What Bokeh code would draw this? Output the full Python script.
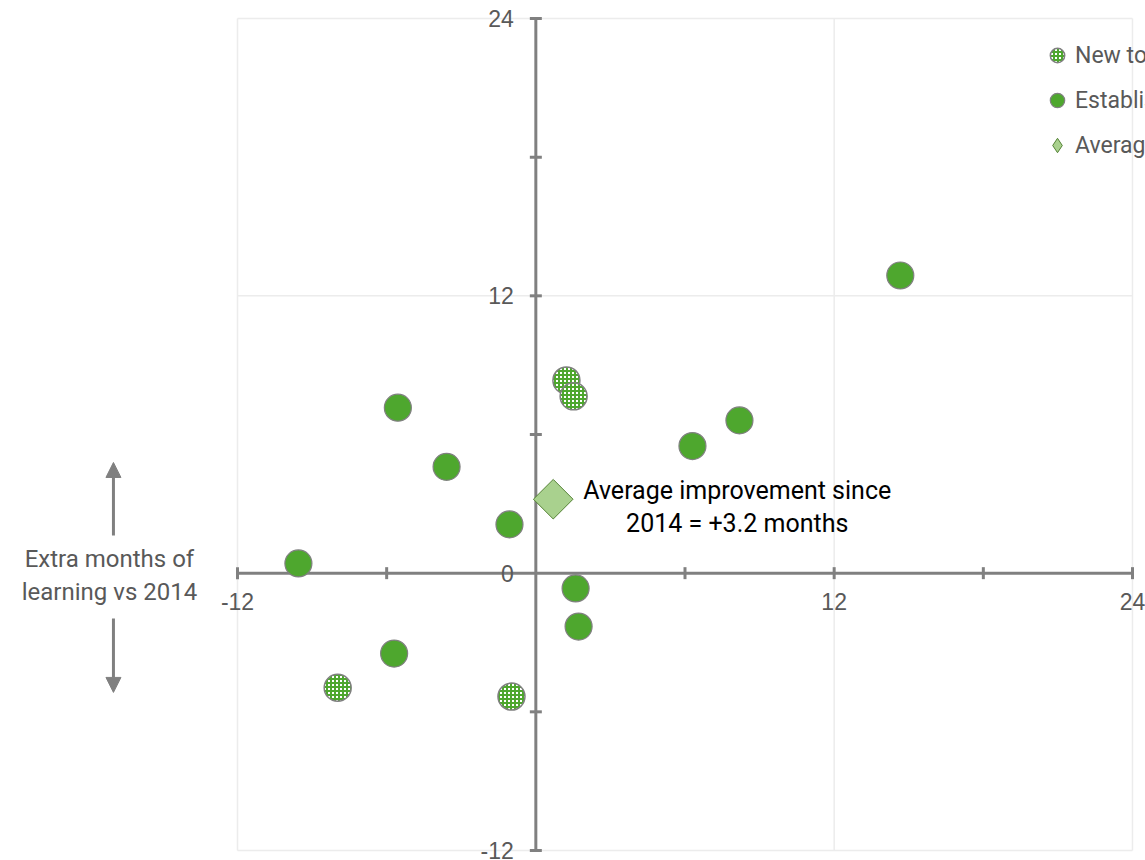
from math import pi
from bokeh.plotting import figure
from bokeh.models import Legend, LegendItem, Arrow, NormalHead
from bokeh.core.properties import value
from bokeh.embed import file_html
from bokeh.resources import INLINE

# ---------------- data ----------------
new_x = [1.23, 1.52, -7.97, -0.98]
new_y = [8.34, 7.65, -4.96, -5.34]

est_x = [14.66, -5.55, -3.59, -1.06, -9.55, 6.30, 8.19, 1.60, 1.72, -5.70]
est_y = [12.88, 7.16, 4.60, 2.11, 0.42, 5.50, 6.61, -0.66, -2.31, -3.48]

avg_x = [0.7]
avg_y = [3.2]

series_labels = ["New to programme", "Established in programme", "Average"]
annotation = "Average improvement since\n2014 = +3.2 months"
axis_title = "Extra months of\nlearning vs 2014"

x_tick_values = [-12, 12, 24]
x_tick_labels = ["-12", "12", "24"]
y_tick_values = [24, 12, 0, -12]
y_tick_labels = ["24", "12", "0", "-12"]
minor_ticks = [-12, -6, 6, 12, 18, 24]
grid_values = [-12, 12, 24]

# ---------------- styling ----------------
GREEN = "#4ea72e"
GREY = "#808080"
TEXT = "#595959"
GRID = "#ececec"
FONT = "Roboto"
TICK_FONT = "Liberation Sans"

W, H = 1145, 860
LO, HI = -12, 24

p = figure(width=W, height=H, x_range=(-21.533, 24.523), y_range=(-12.433, 24.779),
           output_backend="svg", toolbar_location=None,
           x_axis_type=None, y_axis_type=None, min_border=0)
p.grid.visible = False
p.outline_line_color = None
p.background_fill_color = "white"

# gridlines
p.segment(x0=grid_values, y0=[LO] * 3, x1=grid_values, y1=[HI] * 3,
          line_color=GRID, line_width=1.5)
p.segment(x0=[LO] * 3, y0=grid_values, x1=[HI] * 3, y1=grid_values,
          line_color=GRID, line_width=1.5)

# axes crossing at the origin
p.segment(x0=[LO, 0], y0=[0, LO], x1=[HI, 0], y1=[0, HI], line_color=GREY, line_width=3)
p.scatter(x=minor_ticks, y=[0] * len(minor_ticks), marker="dash", size=12, angle=pi / 2,
          line_color=GREY, line_width=3)
p.scatter(x=[0] * len(minor_ticks), y=minor_ticks, marker="dash", size=12, angle=0,
          line_color=GREY, line_width=3)

# tick labels
p.text(x=x_tick_values, y=[0] * len(x_tick_values), text=x_tick_labels, y_offset=28,
       text_align="center", text_baseline="middle", text_font=value(TICK_FONT),
       text_font_size="23px", text_color=TEXT)
p.text(x=[0] * len(y_tick_values), y=y_tick_values, text=y_tick_labels, x_offset=-22,
       text_align="right", text_baseline="middle", text_font=value(TICK_FONT),
       text_font_size="23px", text_color=TEXT)

# axis title with arrows
p.text(x=[-17.15], y=[0], text=[axis_title], y_offset=2, text_align="center",
       text_baseline="middle", text_font=value(FONT), text_font_size="24px",
       text_color=TEXT, text_line_height=1.18)
for ys, ye in [(1.63, 4.79), (-1.96, -5.16)]:
    p.add_layout(Arrow(x_start=-16.99, y_start=ys, x_end=-16.99, y_end=ye,
                       line_color=GREY, line_width=3,
                       end=NormalHead(size=15, fill_color=GREY, line_color=GREY)))

# data
r_new = p.scatter(x=new_x, y=new_y, size=27, fill_color="white", line_color=GREY,
                  line_width=1.5, hatch_pattern="cross", hatch_color=GREEN,
                  hatch_scale=4, hatch_weight=2)
r_est = p.scatter(x=est_x, y=est_y, size=27, fill_color=GREEN, line_color=GREY,
                  line_width=1.2)
r_avg = p.scatter(x=avg_x, y=avg_y, marker="square", angle=pi / 4, size=28,
                  fill_color="#a9d18e", line_color="#548235", line_width=1)
# legend swatch for the average (diamond shape), not drawn in the plot area
r_avg_key = p.scatter(x=[float("nan")], y=[float("nan")], marker="diamond", size=20,
                      fill_color="#a9d18e", line_color="#548235", line_width=1)

p.text(x=avg_x, y=avg_y, text=[annotation], x_offset=184, y_offset=8,
       text_align="center", text_baseline="middle", text_font=value(FONT),
       text_font_size="25px", text_color="black", text_line_height=1.15)

legend = Legend(items=[LegendItem(label=series_labels[0], renderers=[r_new], index=0),
                       LegendItem(label=series_labels[1], renderers=[r_est], index=0),
                       LegendItem(label=series_labels[2], renderers=[r_avg_key], index=0)],
                location=(1039, 860 - 163), glyph_width=36, glyph_height=36, spacing=9,
                label_standoff=-8, padding=0, margin=0, border_line_alpha=0,
                background_fill_alpha=0, label_text_font=FONT,
                label_text_font_size="23px", label_text_color=TEXT)
p.add_layout(legend)

open("out.html", "w").write(file_html(p, INLINE))
